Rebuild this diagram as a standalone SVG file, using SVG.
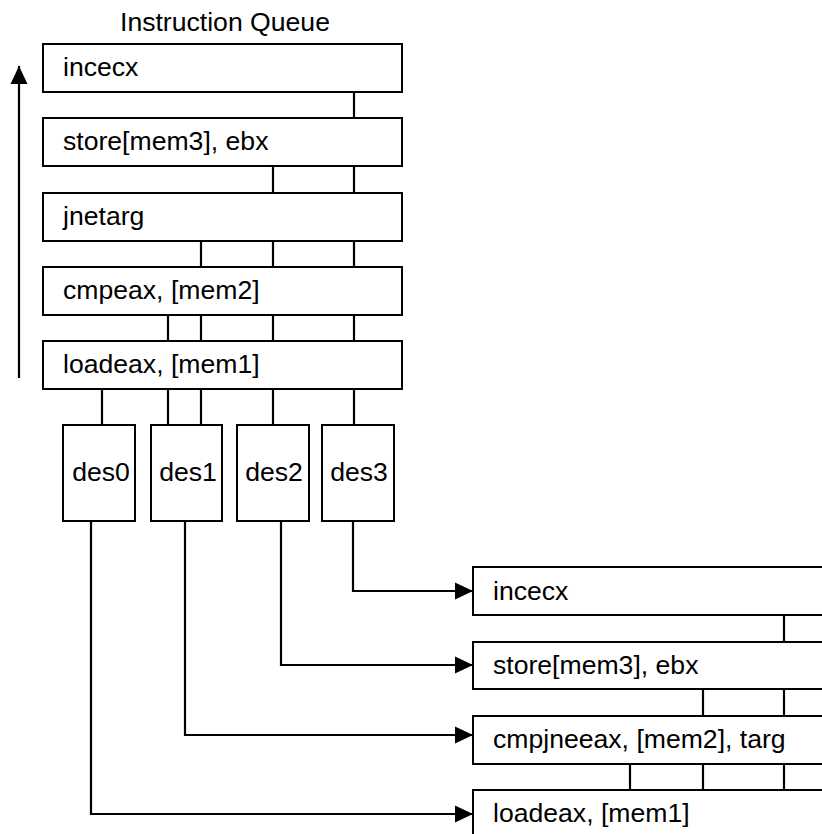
<svg xmlns="http://www.w3.org/2000/svg" width="822" height="834" viewBox="0 0 822 834">
  <style>
    .box { fill: #ffffff; stroke: #000000; stroke-width: 2; }
    .lbl { font-family: "Liberation Sans", Arial, sans-serif; font-size: 26.6px; fill: #000000; }
    .wire { fill: none; stroke: #000000; stroke-width: 2.2; }
    .arrow { fill: none; stroke: #000000; stroke-width: 2.2; marker-end: url(#head); }
  </style>
  <defs>
    <marker id="head" markerUnits="userSpaceOnUse" markerWidth="18" markerHeight="18" viewBox="0 0 18 18" refX="18" refY="9" orient="auto">
      <path d="M0,0.5 L18,9 L0,17.5 Z" fill="#000000"/>
    </marker>
  </defs>

  <rect width="822" height="834" fill="#ffffff"/>

  <text id="title" class="lbl" x="120" y="31">Instruction Queue</text>

  <!-- connectors -->
  <g id="connectors">
    <!-- queue direction -->
    <path class="arrow" d="M19,378 V66"/>
    <!-- dependency wires in the instruction queue -->
    <path class="wire" d="M354,92 V118"/>
    <path class="wire" d="M273,166 V193 M354,166 V193"/>
    <path class="wire" d="M201,241 V267 M273,241 V267 M354,241 V267"/>
    <path class="wire" d="M168,315 V341 M201,315 V341 M273,315 V341 M354,315 V341"/>
    <path class="wire" d="M102,389 V425 M168,389 V425 M201,389 V425 M273,389 V425 M354,389 V425"/>
    <!-- decoders to the issued ops -->
    <path class="arrow" d="M353,521 V591 H473"/>
    <path class="arrow" d="M281,521 V665 H473"/>
    <path class="arrow" d="M185,521 V735 H473"/>
    <path class="arrow" d="M91,521 V814 H473"/>
    <!-- dependency wires among the issued ops -->
    <path class="wire" d="M784,615 V642"/>
    <path class="wire" d="M703,689 V716 M784,689 V716"/>
    <path class="wire" d="M630,764 V790 M703,764 V790 M784,764 V790"/>
  </g>

  <!-- instruction queue -->
  <g id="q-incecx">
    <rect class="box" x="43" y="44" width="359" height="48"/>
    <text class="lbl" x="63" y="76">incecx</text>
  </g>
  <g id="q-store">
    <rect class="box" x="43" y="118" width="359" height="48"/>
    <text class="lbl" x="63" y="150">store[mem3], ebx</text>
  </g>
  <g id="q-jne">
    <rect class="box" x="43" y="193" width="359" height="48"/>
    <text class="lbl" x="63" y="225">jnetarg</text>
  </g>
  <g id="q-cmp">
    <rect class="box" x="43" y="267" width="359" height="48"/>
    <text class="lbl" x="63" y="299">cmpeax, [mem2]</text>
  </g>
  <g id="q-load">
    <rect class="box" x="43" y="341" width="359" height="48"/>
    <text class="lbl" x="63" y="373">loadeax, [mem1]</text>
  </g>

  <!-- decoders -->
  <g id="des0">
    <rect class="box" x="63" y="425" width="72" height="96"/>
    <text class="lbl" x="101" y="481" text-anchor="middle">des0</text>
  </g>
  <g id="des1">
    <rect class="box" x="151" y="425" width="71" height="96"/>
    <text class="lbl" x="188" y="481" text-anchor="middle">des1</text>
  </g>
  <g id="des2">
    <rect class="box" x="237" y="425" width="72" height="96"/>
    <text class="lbl" x="274" y="481" text-anchor="middle">des2</text>
  </g>
  <g id="des3">
    <rect class="box" x="322" y="425" width="72" height="96"/>
    <text class="lbl" x="359" y="481" text-anchor="middle">des3</text>
  </g>

  <!-- issued ops -->
  <g id="o-incecx">
    <rect class="box" x="473" y="567" width="360" height="48"/>
    <text class="lbl" x="493" y="600">incecx</text>
  </g>
  <g id="o-store">
    <rect class="box" x="473" y="642" width="360" height="47"/>
    <text class="lbl" x="493" y="674">store[mem3], ebx</text>
  </g>
  <g id="o-cmpjne">
    <rect class="box" x="473" y="716" width="360" height="48"/>
    <text class="lbl" x="493" y="748">cmpjneeax, [mem2], targ</text>
  </g>
  <g id="o-load">
    <rect class="box" x="473" y="790" width="360" height="60"/>
    <text class="lbl" x="493" y="822">loadeax, [mem1]</text>
  </g>
</svg>
